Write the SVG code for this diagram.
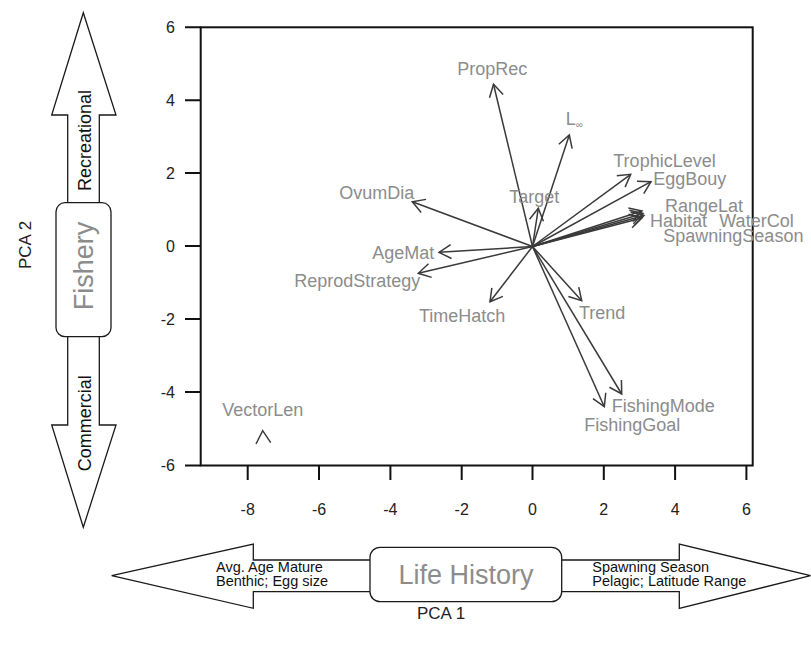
<svg xmlns="http://www.w3.org/2000/svg" width="811" height="646" viewBox="0 0 811 646">
<defs>
<marker id="ah" viewBox="-14 -8 16 16" refX="0" refY="0" markerWidth="16" markerHeight="16" markerUnits="userSpaceOnUse" orient="auto">
<path d="M-12.1,-7 L0,0 L-12.1,7" fill="none" stroke="#3a3a3a" stroke-width="1.5"/>
</marker>
</defs>
<style>
text{font-family:"Liberation Sans",Arial,sans-serif}
.lab{font-size:18px;fill:#8c8c8c}
.tick{font-size:16px;fill:#222}
.axt{font-size:17px;fill:#222}
.big{font-size:27px;fill:#8c8c8c}
.side{font-size:18px;fill:#111}
.sm{font-size:14.5px;fill:#111}
.vec{stroke:#3a3a3a;stroke-width:1.5;fill:none;marker-end:url(#ah)}
.ax{stroke:#111;stroke-width:2;fill:none}
.shape{fill:#fff;stroke:#1a1a1a;stroke-width:1.3}
</style>
<rect width="811" height="646" fill="#fff"/>

<g id="axes">
<rect x="200.7" y="27.3" width="552" height="438.2" class="ax"/>
<path class="ax" d="M185,27.3H200.7M185,100.3H200.7M185,173H200.7M185,246H200.7M185,319H200.7M185,392H200.7M185,465.5H200.7"/>
<path class="ax" d="M247.7,465.5V480M319,465.5V480M390.4,465.5V480M461.7,465.5V480M532.5,465.5V480M603.8,465.5V480M675.1,465.5V480M746.4,465.5V480"/>
<g class="tick" text-anchor="end">
<text x="175" y="33">6</text><text x="175" y="106">4</text><text x="175" y="178.7">2</text><text x="175" y="251.7">0</text><text x="175" y="324.7">-2</text><text x="175" y="397.7">-4</text><text x="175" y="471">-6</text>
</g>
<g class="tick" text-anchor="middle">
<text x="247.7" y="515">-8</text><text x="319" y="515">-6</text><text x="390.4" y="515">-4</text><text x="461.7" y="515">-2</text><text x="532.5" y="515">0</text><text x="603.8" y="515">2</text><text x="675.1" y="515">4</text><text x="746.4" y="515">6</text>
</g>
<text class="axt" text-anchor="middle" x="441" y="619">PCA 1</text>
<text class="axt" text-anchor="middle" transform="translate(31,245) rotate(-90)">PCA 2</text>
</g>

<g id="connectors">
<path class="vec" d="M532.5,246.5L493.5,84.3"/>
<path class="vec" d="M532.5,246.5L569.3,135"/>
<path class="vec" d="M532.5,246.5L538.3,208.3"/>
<path class="vec" d="M532.5,246.5L412.3,201.7"/>
<path class="vec" d="M532.5,246.5L630.7,174.3"/>
<path class="vec" d="M532.5,246.5L651,181.7"/>
<path class="vec" d="M532.5,246.5L642,211"/>
<path class="vec" d="M532.5,246.5L643,213.5"/>
<path class="vec" d="M532.5,246.5L644,215.5"/>
<path class="vec" d="M532.5,246.5L642,218"/>
<path class="vec" d="M532.5,246.5L439,252.3"/>
<path class="vec" d="M532.5,246.5L418.3,273.3"/>
<path class="vec" d="M532.5,246.5L490,301.7"/>
<path class="vec" d="M532.5,246.5L581.7,300.7"/>
<path class="vec" d="M532.5,246.5L621.7,394"/>
<path class="vec" d="M532.5,246.5L604.3,406.7"/>
<path d="M256,444L262.7,430.7L270.7,442.7" fill="none" stroke="#3a3a3a" stroke-width="1.5"/>
</g>

<g id="n-PropRec"><text class="lab" x="457.3" y="75">PropRec</text></g>
<g id="n-Linf"><text class="lab" x="565.7" y="125">L<tspan font-size="10" dy="3">∞</tspan></text></g>
<g id="n-Target"><text class="lab" x="509.3" y="203.3">Target</text></g>
<g id="n-OvumDia"><text class="lab" x="339.3" y="199">OvumDia</text></g>
<g id="n-TrophicLevel"><text class="lab" x="613.3" y="167.3">TrophicLevel</text></g>
<g id="n-EggBouy"><text class="lab" x="653.3" y="185">EggBouy</text></g>
<g id="n-RangeLat"><text class="lab" x="665" y="211.7">RangeLat</text></g>
<g id="n-Habitat"><text class="lab" x="650" y="226.7">Habitat</text></g>
<g id="n-WaterCol"><text class="lab" x="719.3" y="226.7">WaterCol</text></g>
<g id="n-SpawningSeason"><text class="lab" x="663.3" y="241.7">SpawningSeason</text></g>
<g id="n-AgeMat"><text class="lab" x="372.3" y="259">AgeMat</text></g>
<g id="n-ReprodStrategy"><text class="lab" x="294.3" y="286.7">ReprodStrategy</text></g>
<g id="n-TimeHatch"><text class="lab" x="419" y="321.7">TimeHatch</text></g>
<g id="n-Trend"><text class="lab" x="579" y="319">Trend</text></g>
<g id="n-FishingMode"><text class="lab" x="611.7" y="411.7">FishingMode</text></g>
<g id="n-FishingGoal"><text class="lab" x="584.3" y="430.7">FishingGoal</text></g>
<g id="n-VectorLen"><text class="lab" x="222.3" y="416">VectorLen</text></g>

<g id="n-Fishery">
<path class="shape" d="M67.7,202.7V115H51.7L83.3,12.7L116,115H99.3V202.7"/>
<path class="shape" d="M67.7,336.7V425H51.7L83.3,527.3L116,425H99.3V336.7"/>
<rect class="shape" x="56" y="202.7" width="55" height="134" rx="9"/>
<text class="big" text-anchor="middle" transform="translate(93.3,266) rotate(-90)">Fishery</text>
<text class="side" text-anchor="middle" transform="translate(90.7,140.5) rotate(-90)">Recreational</text>
<text class="side" text-anchor="middle" transform="translate(91.3,423.3) rotate(-90)">Commercial</text>
</g>

<g id="n-LifeHistory">
<path class="shape" d="M370,560H253.3V544L111.7,575.7L253.3,608.3V591.7H370"/>
<path class="shape" d="M561.7,560H679.3V544L810.5,575.7L679.3,608.3V591.7H561.7"/>
<rect class="shape" x="370" y="547.3" width="191.7" height="54.4" rx="10"/>
<text class="big" text-anchor="middle" x="466" y="584.3">Life History</text>
<text class="sm" x="216" y="571.8">Avg. Age Mature</text>
<text class="sm" x="216" y="586">Benthic; Egg size</text>
<text class="sm" x="592.3" y="571.8">Spawning Season</text>
<text class="sm" x="592.3" y="586">Pelagic; Latitude Range</text>
</g>
</svg>
